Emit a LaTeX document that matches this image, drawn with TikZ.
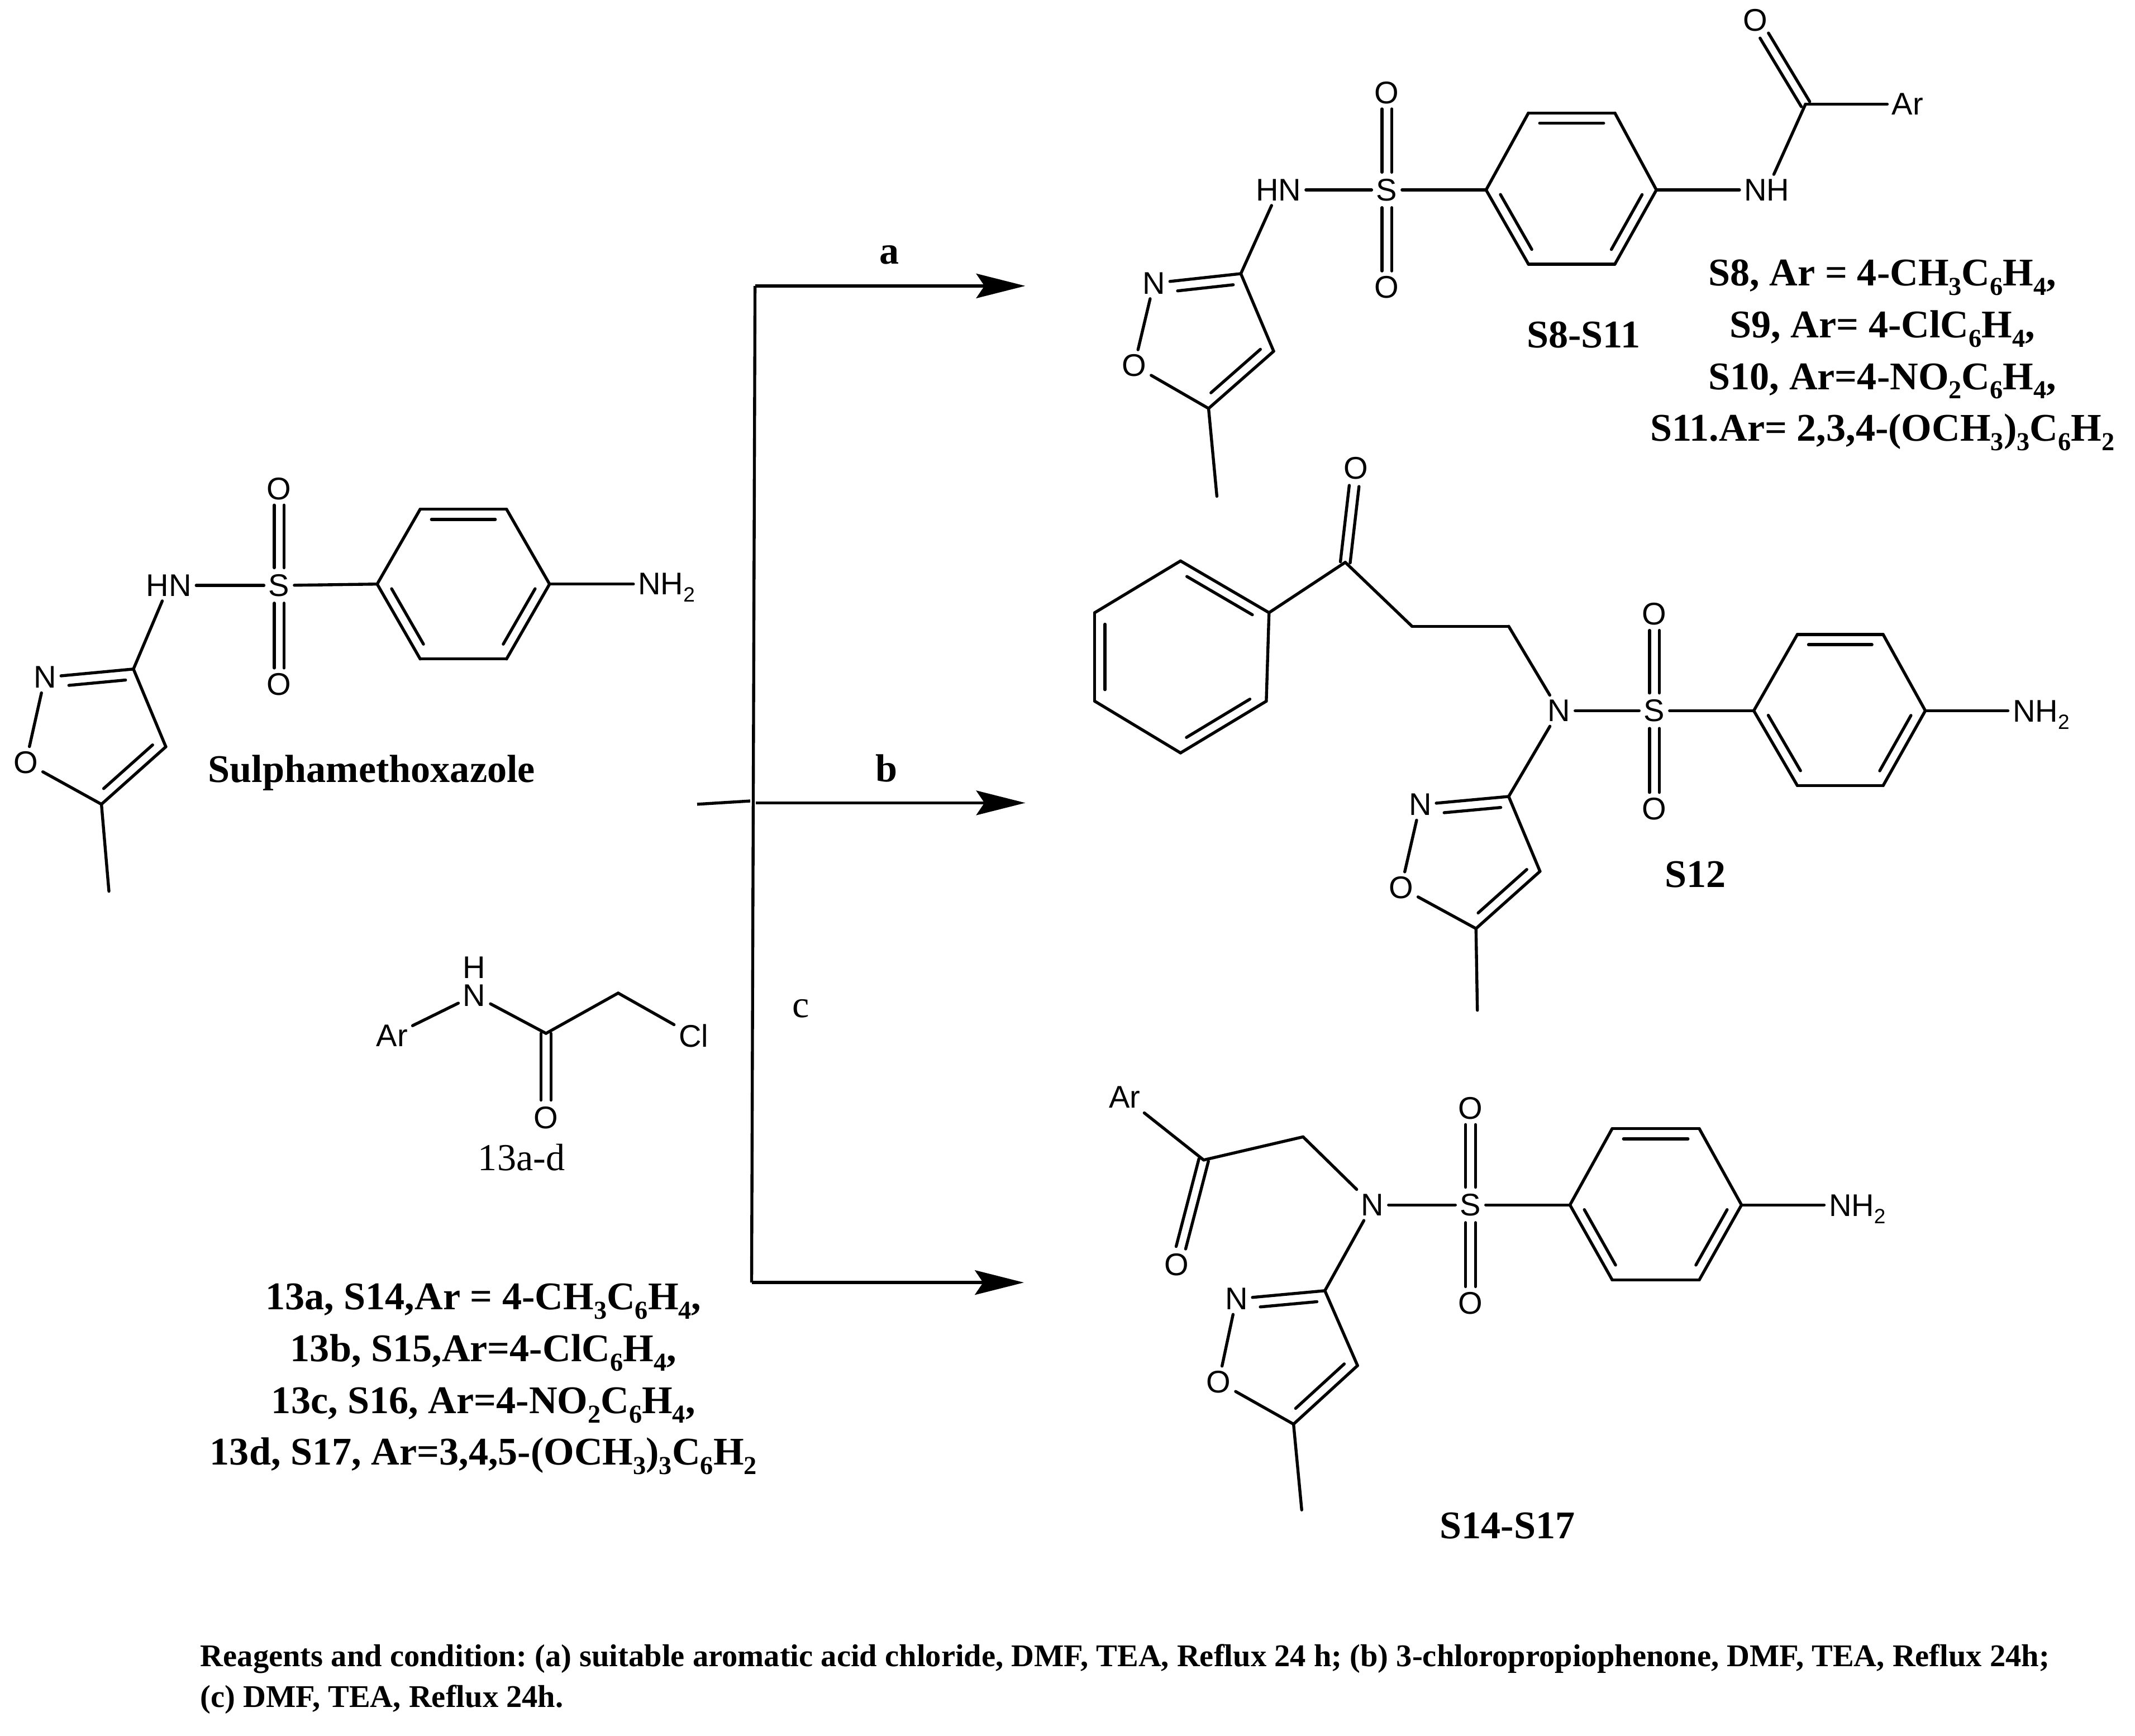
\documentclass[tikz,border=0pt]{standalone}
\usepackage{fontspec}
\setmainfont{Liberation Serif}
\newfontfamily\atomfont{Liberation Sans}
\usetikzlibrary{calc,arrows.meta}
\newcommand\sbb[1]{\raisebox{-0.24em}{\scalebox{0.66}{#1}}}
\newcommand\bnd[2]{\draw[bond] (#1) -- (#2);}
% symmetric double bond; #3,#4 = clearance at each end
\newcommand\dbl[4]{%
 \draw[bond,shorten <=#3pt,shorten >=#4pt] ($(#1)!3.6pt!90:(#2)$) -- ($(#2)!3.6pt!-90:(#1)$);%
 \draw[bond,shorten <=#3pt,shorten >=#4pt] ($(#1)!3.6pt!-90:(#2)$) -- ($(#2)!3.6pt!90:(#1)$);}
% inner line of a ring double bond (right of a->b); #3,#4 = fractions
\newcommand\inb[4]{\draw[bond] ($(#1)!#3!(#2)!7.5pt!-90:(#2)$) -- ($(#1)!#4!(#2)!7.5pt!90:(#1)$);}
% isoxazole ring and its methyl
\newcommand\isox[1]{%
 \bnd{#1c3}{#1c4}\bnd{#1c4}{#1c5}\bnd{#1c5}{#1o}\bnd{#1o}{#1n}\bnd{#1n}{#1c3}\bnd{#1c5}{#1me}%
 \inb{#1c4}{#1c5}{0.1}{0.86}\inb{#1n}{#1c3}{0.26}{0.9}}
% para-substituted ring
\newcommand\pring[1]{%
 \bnd{#1r1}{#1r2}\bnd{#1r2}{#1r3}\bnd{#1r3}{#1r4}\bnd{#1r4}{#1r5}\bnd{#1r5}{#1r6}\bnd{#1r6}{#1r1}%
 \inb{#1r2}{#1r3}{0.13}{0.87}\inb{#1r4}{#1r5}{0.13}{0.87}\inb{#1r6}{#1r1}{0.13}{0.87}}
% horizontal bond from a ring corner to an NH2 label
\newcommand\hbnd[2]{\draw[bond] (#1) -- (#1 -| #2.west);}
\tikzset{
 bond/.style={line width=2.2pt,line cap=round,black},
 atom/.style={font=\atomfont\fontsize{23}{23}\selectfont,inner sep=3.5pt,outer sep=0pt},
 lab/.style={font=\bfseries\fontsize{28.8}{28.8}\selectfont,inner sep=0pt,anchor=base},
 plain/.style={font=\fontsize{28}{28}\selectfont,inner sep=0pt},
 note/.style={font=\bfseries\fontsize{23.2}{23.2}\selectfont\frenchspacing,inner sep=0pt,anchor=base west},
 rxn/.style={line width=2.2pt,-{Stealth[length=36pt,width=18pt,inset=6pt]}},
 flow/.style={line width=2.2pt},
}
\begin{document}
\begin{tikzpicture}[x=1pt,y=-1pt]
\useasboundingbox (0,0) rectangle (1568,1275);
\fill[white] (0,0) rectangle (1568,1275);

% ---------- Sulphamethoxazole
\node[atom] (ahn) at (124,430) {HN};
\node[atom] (as) at (205,430) {S};
\node[atom] (aot) at (205,359) {O};
\node[atom] (aob) at (205,502.6) {O};
\coordinate (ar1) at (277,429);\coordinate (ar2) at (308.6,374);\coordinate (ar3) at (372,374);
\coordinate (ar4) at (403.6,429);\coordinate (ar5) at (372,484);\coordinate (ar6) at (308.6,484);
\node[atom] (anh) at (489.5,431.5) {NH\sbb{2}};
\coordinate (ac3) at (98,491.4);\coordinate (ac4) at (121.8,548.5);\coordinate (ac5) at (74.5,590.7);
\node[atom] (an) at (33,497.5) {N};
\node[atom] (ao) at (19,560) {O};
\coordinate (ame) at (80,654.6);
\bnd{ahn}{as}\bnd{as}{ar1}\dbl{as}{aot}{13}{12}\dbl{as}{aob}{13}{12}\hbnd{ar4}{anh}\bnd{ahn}{ac3}
\pring{a}\isox{a}
\node[lab] (aname) at (273,574.7) {Sulphamethoxazole};

% ---------- 13a-d
\node[atom] (bar) at (288,760.7) {Ar};
\node[atom] (bn) at (348.4,731) {N};
\node[atom] (bh) at (348.4,710.7) {H};
\coordinate (bc) at (401,759);\coordinate (bch) at (454,729.4);
\node[atom] (bcl) at (509.4,760.7) {Cl};
\node[atom] (bo) at (401,821) {O};
\bnd{bar}{bn}\bnd{bn}{bc}\bnd{bc}{bch}\bnd{bch}{bcl}\dbl{bc}{bo}{0}{13}
\node[plain] (bname) at (383,850) {13a-d};
\node[lab] (bl1) at (355,962) {13a, S14,Ar = 4-CH\sbb{3}C\sbb{6}H\sbb{4},};
\node[lab] (bl2) at (355,1000) {13b, S15,Ar=4-ClC\sbb{6}H\sbb{4},};
\node[lab] (bl3) at (355,1038) {13c, S16, Ar=4-NO\sbb{2}C\sbb{6}H\sbb{4},};
\node[lab] (bl4) at (355,1076) {13d, S17, Ar=3,4,5-(OCH\sbb{3})\sbb{3}C\sbb{6}H\sbb{2}};

% ---------- reaction scheme
\coordinate (ftop) at (554.5,210);\coordinate (fbot) at (552,942);
\coordinate (ftick) at (512,590.7);\coordinate (fmid) at (551,588.3);
\coordinate (fb) at (555,589.7);
\coordinate (ta) at (753,210);\coordinate (tb) at (753,589.7);\coordinate (tc) at (752,942);
\draw[flow] (ftop) -- (fbot);
\draw[flow] (ftick) -- (fmid);
\draw[rxn] (ftop) -- (ta);
\draw[rxn] (fb) -- (tb);
\draw[rxn] (fbot) -- (tc);
\node[lab] (la) at (653,194) {a};
\node[lab] (lb) at (651,574) {b};
\node[plain] (lc) at (588,741) {c};

% ---------- S8-S11
\node[atom] (chn) at (939,139.5) {HN};
\node[atom] (cs) at (1018.5,139.5) {S};
\node[atom] (cot) at (1018.5,68) {O};
\node[atom] (cob) at (1018.5,211) {O};
\coordinate (cr1) at (1091.4,139.5);\coordinate (cr2) at (1122.5,83);\coordinate (cr3) at (1186,83);
\coordinate (cr4) at (1216.5,139.5);\coordinate (cr5) at (1186,194);\coordinate (cr6) at (1122.5,194);
\node[atom] (cnh) at (1297.6,139.5) {NH};
\coordinate (cco) at (1326,76.5);
\node[atom] (cko) at (1289,15) {O};
\node[atom] (car) at (1401,76.5) {Ar};
\coordinate (cc3) at (911.3,201);\coordinate (cc4) at (935.4,258);\coordinate (cc5) at (887.6,300);
\node[atom] (cn) at (847.4,208) {N};
\node[atom] (co) at (833,268.5) {O};
\coordinate (cme) at (893.7,364.5);
\bnd{chn}{cs}\bnd{cs}{cr1}\dbl{cs}{cot}{13}{12}\dbl{cs}{cob}{13}{12}\bnd{cr4}{cnh}\bnd{cnh}{cco}\bnd{cco}{car}\dbl{cco}{cko}{0}{13}\bnd{chn}{cc3}
\pring{c}\isox{c}
\node[lab] (cname) at (1163,255.5) {S8-S11};
\node[lab] (cl1) at (1382.5,210) {S8, Ar = 4-CH\sbb{3}C\sbb{6}H\sbb{4},};
\node[lab] (cl2) at (1382.5,248) {S9, Ar= 4-ClC\sbb{6}H\sbb{4},};
\node[lab] (cl3) at (1382.5,286) {S10, Ar=4-NO\sbb{2}C\sbb{6}H\sbb{4},};
\node[lab] (cl4) at (1382.5,324) {S11.Ar= 2,3,4-(OCH\sbb{3})\sbb{3}C\sbb{6}H\sbb{2}};

% ---------- S12
\coordinate (dp1) at (867,412);\coordinate (dp2) at (932,450);\coordinate (dp3) at (930,515);
\coordinate (dp4) at (867,553);\coordinate (dp5) at (804,515);\coordinate (dp6) at (804,450);
\coordinate (dco) at (988,413);
\node[atom] (dko) at (996,344) {O};
\coordinate (dc1) at (1037,460);\coordinate (dc2) at (1108,460);
\node[atom] (dnn) at (1145,522) {N};
\node[atom] (ds) at (1215,522) {S};
\node[atom] (dot) at (1215,451) {O};
\node[atom] (dob) at (1215,594) {O};
\coordinate (dr1) at (1288,522);\coordinate (dr2) at (1320,466);\coordinate (dr3) at (1383,466);
\coordinate (dr4) at (1414,522);\coordinate (dr5) at (1383,577);\coordinate (dr6) at (1320,577);
\node[atom] (dnh) at (1499,525) {NH\sbb{2}};
\coordinate (dc3) at (1108,585);\coordinate (dc4) at (1131,640);\coordinate (dc5) at (1084,682);
\node[atom] (dn) at (1043,591) {N};
\node[atom] (do) at (1029,652) {O};
\coordinate (dme) at (1085,742);
\bnd{dp1}{dp2}\bnd{dp2}{dp3}\bnd{dp3}{dp4}\bnd{dp4}{dp5}\bnd{dp5}{dp6}\bnd{dp6}{dp1}
\inb{dp1}{dp2}{0.13}{0.87}\inb{dp3}{dp4}{0.13}{0.87}\inb{dp5}{dp6}{0.13}{0.87}
\bnd{dp2}{dco}\bnd{dco}{dc1}\bnd{dc1}{dc2}\bnd{dc2}{dnn}\bnd{dnn}{ds}\bnd{ds}{dr1}\dbl{dco}{dko}{0}{13}
\dbl{ds}{dot}{13}{12}\dbl{ds}{dob}{13}{12}\hbnd{dr4}{dnh}\bnd{dnn}{dc3}
\pring{d}\isox{d}
\node[lab] (dname) at (1245,651.5) {S12};

% ---------- S14-S17
\node[atom] (ear) at (826,806) {Ar};
\coordinate (eco) at (884,852);\coordinate (ech) at (957,835);
\node[atom] (eko) at (864,929) {O};
\node[atom] (enn) at (1008,885) {N};
\node[atom] (es) at (1080,885) {S};
\node[atom] (eot) at (1080,814) {O};
\node[atom] (eob) at (1080,957) {O};
\coordinate (er1) at (1153,885);\coordinate (er2) at (1184,829);\coordinate (er3) at (1248,829);
\coordinate (er4) at (1279,885);\coordinate (er5) at (1248,940);\coordinate (er6) at (1184,940);
\node[atom] (enh) at (1364,888) {NH\sbb{2}};
\coordinate (ec3) at (973,948);\coordinate (ec4) at (997,1003);\coordinate (ec5) at (950,1046);
\node[atom] (en) at (908,954) {N};
\node[atom] (eo) at (895,1015) {O};
\coordinate (eme) at (956,1109);
\bnd{ear}{eco}\bnd{eco}{ech}\bnd{ech}{enn}\bnd{enn}{es}\bnd{es}{er1}\dbl{eco}{eko}{0}{13}
\dbl{es}{eot}{13}{12}\dbl{es}{eob}{13}{12}\hbnd{er4}{enh}\bnd{enn}{ec3}
\pring{e}\isox{e}
\node[lab] (ename) at (1107,1130) {S14-S17};

% ---------- footnote
\node[note] (f1) at (147,1224) {Reagents and condition: (a) suitable aromatic acid chloride, DMF, TEA, Reflux 24 h; (b) 3-chloropropiophenone, DMF, TEA, Reflux 24h;};
\node[note] (f2) at (147,1254) {(c) DMF, TEA, Reflux 24h.};
\end{tikzpicture}
\end{document}
